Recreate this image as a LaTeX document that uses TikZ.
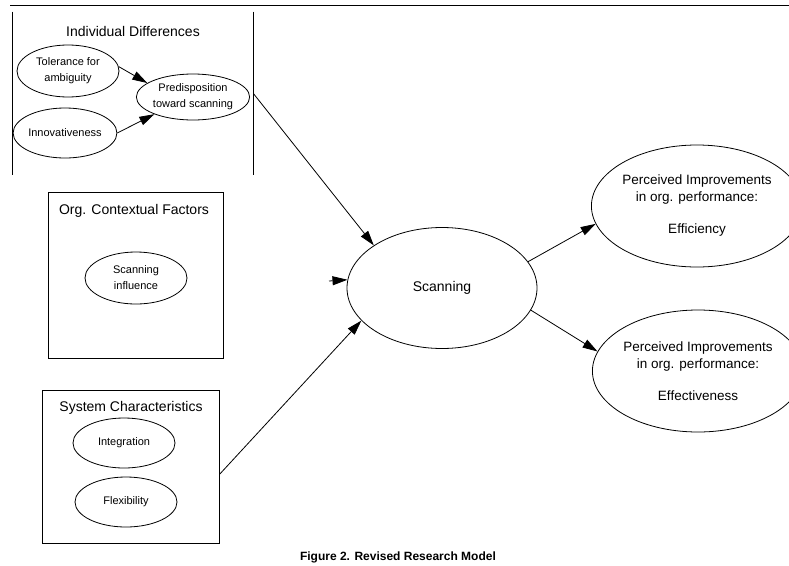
\documentclass[tikz,border=0pt]{standalone}
\usepackage{fontspec}
\setmainfont{Liberation Sans}
\usetikzlibrary{shapes.geometric,arrows.meta}

\tikzset{
    oval/.style={draw,ellipse,inner sep=0pt,align=center,font=\fontsize{11}{16}\selectfont},
    bigoval/.style={oval,font=\fontsize{13.5}{17}\selectfont},
    framebox/.style={inner sep=0pt},
    boxtitle/.style={font=\fontsize{14}{16}\selectfont},
    arr/.style={-{Triangle[length=15pt,width=9pt]}},
}

\begin{document}
\begin{tikzpicture}[x=1pt,y=-1pt,line width=0.8pt]
        \useasboundingbox (0,0) rectangle (789,565);
        % Rule on top
        \draw (10,5) -- (789,5);

        % Individual differences (sides only)
        \node[framebox,minimum width=240pt,minimum height=163pt] (diffbox) at (133,93.5) {};
        \draw (diffbox.north west) -- (diffbox.south west);
        \draw (diffbox.north east) -- (diffbox.south east);
        \node[boxtitle] (difftitle) at (133,31) {Individual Differences};
        \node[oval,minimum width=102pt,minimum height=52pt] (tol) at (68,71) {Tolerance for\\ambiguity};
        \node[oval,minimum width=100pt,minimum height=50pt] (innov) at (65,133) {Innovativeness};
        \node[oval,minimum width=102pt,minimum height=46pt] (predisp) at (193,97) {Predisposition\\toward scanning};
        \draw[arr] (tol.5) -- (predisp.163);
        \draw[arr] (innov.east) -- (predisp.204);

        % Org. contextual factors
        \node[framebox,draw,minimum width=175pt,minimum height=166pt] (orgbox) at (135.5,275) {};
        \node[boxtitle] (orgtitle) at (134,211) {Org. Contextual Factors};
        \node[oval,minimum width=102pt,minimum height=52pt] (infl) at (136,278) {Scanning\\influence};

        % System characteristics
        \node[framebox,draw,minimum width=177pt,minimum height=153pt] (sysbox) at (130.5,466.5) {};
        \node[boxtitle] (systitle) at (131,408) {System Characteristics};
        \node[oval,minimum width=102pt,minimum height=50pt] (integ) at (124,443) {Integration};
        \node[oval,minimum width=102pt,minimum height=50pt] (flex) at (126,502) {Flexibility};

        % Scanning and outcomes
        \node[oval,font=\fontsize{14}{16}\selectfont,minimum width=190pt,minimum height=121pt] (scan) at (442,288) {Scanning};
        \node[bigoval,minimum width=182pt,minimum height=122pt] (effic) at (697,206)
            {Perceived Improvements\\in org. performance:\\[15pt]Efficiency};
        \node[bigoval,minimum width=180pt,minimum height=122pt] (effect) at (698,371)
            {Perceived Improvements\\in org. performance:\\[15pt]Effectiveness};

        \coordinate (ctxin) at (329,281);
        \draw[arr] (diffbox.east) -- (scan.148);
        \draw[arr] (ctxin) -- (scan.175);
        \draw[arr] ([yshift=-8pt]sysbox.east) -- (scan.202);
        \draw[arr] (scan.17) -- (effic.190);
        \draw[arr] (scan.-14) -- (effect.169);

        \node[font=\bfseries\fontsize{12}{14}\selectfont] (caption) at (398,557) {Figure 2. Revised Research Model};
\end{tikzpicture}
\end{document}
